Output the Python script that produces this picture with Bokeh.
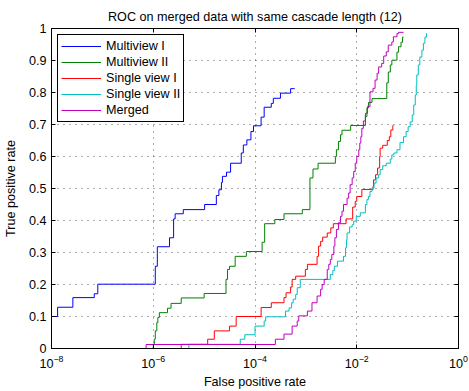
from bokeh.plotting import figure
from bokeh.models import Range1d, FixedTicker, LinearAxis, LogAxis, CustomJSTickFormatter
from bokeh.embed import file_html
from bokeh.resources import INLINE

title_text = "ROC on merged data with same cascade length (12)"
x_label = "False positive rate"
y_label = "True positive rate"
x_ticks = [1e-8, 1e-6, 1e-4, 1e-2, 1e0]
y_ticks = [0.0, 0.1, 0.2, 0.3, 0.4, 0.5, 0.6, 0.7, 0.8, 0.9, 1.0]

series_names = ["Multiview I", "Multiview II", "Single view I", "Single view II", "Merged"]
series_colors = ["#0000ff", "#008000", "#ff0000", "#00bfbf", "#bf00bf"]

# log10(false positive rate) and true positive rate
mv1_log_fpr = [-8.00, -7.88, -7.58, -7.16, -7.09, -5.96, -5.92, -5.68, -5.60, -5.57, -5.41, -4.99,
               -4.76, -4.71, -4.66, -4.64, -4.56, -4.48, -4.27, -4.23, -4.16, -4.08, -4.03, -3.88,
               -3.82, -3.68, -3.64, -3.50, -3.30, -3.22]
mv1_tpr = [0.100, 0.129, 0.159, 0.171, 0.201, 0.257, 0.318, 0.346, 0.405, 0.421, 0.434, 0.450,
           0.478, 0.496, 0.519, 0.538, 0.551, 0.579, 0.611, 0.636, 0.652, 0.678, 0.696, 0.723,
           0.754, 0.766, 0.782, 0.798, 0.812, 0.812]

mv2_log_fpr = [-7.86, -6.02, -6.00, -5.98, -5.96, -5.93, -5.91, -5.88, -5.72, -5.65, -5.45, -5.00,
               -4.57, -4.54, -4.50, -4.39, -4.17, -3.86, -3.81, -3.61, -3.43, -3.07, -2.92, -2.86,
               -2.76, -2.42, -2.40, -2.36, -2.32, -2.29, -2.12, -1.83, -1.80, -1.77, -1.70, -1.41,
               -1.38, -1.34, -1.31, -1.21, -1.18, -1.13, -1.10, -1.08]
mv2_tpr = [0.000, 0.000, 0.013, 0.029, 0.055, 0.081, 0.097, 0.112, 0.126, 0.141, 0.158, 0.172,
           0.216, 0.247, 0.257, 0.288, 0.303, 0.332, 0.390, 0.403, 0.421, 0.434, 0.533, 0.561,
           0.579, 0.600, 0.621, 0.647, 0.668, 0.682, 0.697, 0.725, 0.752, 0.769, 0.781, 0.830,
           0.864, 0.886, 0.901, 0.926, 0.943, 0.957, 0.973, 0.973]

sv1_log_fpr = [-7.86, -5.45, -4.93, -4.80, -4.50, -4.37, -3.88, -3.68, -3.43, -3.39, -3.30, -3.27,
               -3.20, -3.01, -2.97, -2.78, -2.75, -2.71, -2.67, -2.58, -2.51, -2.46, -2.21, -2.08,
               -2.03, -2.00, -1.90, -1.68, -1.67, -1.63, -1.59, -1.55, -1.54, -1.49, -1.40, -1.36,
               -1.33, -1.29, -1.28]
sv1_tpr = [0.000, 0.013, 0.029, 0.055, 0.070, 0.100, 0.128, 0.143, 0.159, 0.174, 0.192, 0.216,
           0.226, 0.247, 0.263, 0.288, 0.320, 0.335, 0.348, 0.361, 0.377, 0.390, 0.405, 0.442,
           0.460, 0.475, 0.497, 0.507, 0.527, 0.543, 0.564, 0.600, 0.626, 0.635, 0.650, 0.662,
           0.683, 0.697, 0.697]

sv2_log_fpr = [-7.86, -5.30, -4.29, -4.20, -4.00, -3.82, -3.79, -3.40, -3.33, -3.28, -3.25, -3.20,
               -3.17, -3.11, -2.52, -2.47, -2.44, -2.38, -2.26, -2.22, -2.20, -2.19, -2.14, -2.09,
               -2.06, -2.01, -1.93, -1.83, -1.80, -1.77, -1.74, -1.70, -1.66, -1.62, -1.57, -1.54,
               -1.49, -1.42, -1.34, -1.31, -1.27, -1.21, -1.15, -1.08, -1.03, -0.99, -0.95, -0.91,
               -0.88, -0.85, -0.83, -0.82, -0.79, -0.76, -0.72, -0.69, -0.66, -0.63]
sv2_tpr = [0.000, 0.013, 0.029, 0.043, 0.070, 0.086, 0.099, 0.117, 0.127, 0.143, 0.154, 0.169,
           0.190, 0.216, 0.231, 0.244, 0.257, 0.273, 0.288, 0.315, 0.340, 0.361, 0.380, 0.387,
           0.398, 0.413, 0.424, 0.450, 0.466, 0.475, 0.491, 0.502, 0.517, 0.533, 0.543, 0.559,
           0.571, 0.579, 0.592, 0.605, 0.611, 0.621, 0.644, 0.662, 0.678, 0.693, 0.708, 0.730,
           0.761, 0.792, 0.823, 0.855, 0.886, 0.911, 0.932, 0.954, 0.973, 0.985]

mrg_log_fpr = [-7.86, -6.14, -3.60, -3.43, -3.27, -3.17, -3.14, -2.97, -2.88, -2.78, -2.71, -2.68,
               -2.64, -2.58, -2.55, -2.52, -2.49, -2.45, -2.43, -2.40, -2.36, -2.32, -2.29, -2.26,
               -2.19, -2.16, -2.13, -2.09, -2.06, -2.03, -2.00, -1.96, -1.94, -1.92, -1.90, -1.87,
               -1.83, -1.79, -1.74, -1.68, -1.64, -1.60, -1.57, -1.51, -1.47, -1.42, -1.38, -1.31,
               -1.28, -1.21, -1.18, -1.08]
mrg_tpr = [0.000, 0.0125, 0.029, 0.045, 0.070, 0.086, 0.102, 0.117, 0.143, 0.164, 0.185, 0.200,
           0.216, 0.247, 0.263, 0.278, 0.294, 0.320, 0.346, 0.372, 0.393, 0.413, 0.429, 0.450,
           0.470, 0.486, 0.512, 0.533, 0.553, 0.579, 0.600, 0.621, 0.642, 0.662, 0.688, 0.711,
           0.735, 0.756, 0.802, 0.813, 0.839, 0.860, 0.880, 0.891, 0.914, 0.927, 0.948, 0.958,
           0.974, 0.984, 0.988, 0.988]

series = [
    (mv1_log_fpr, mv1_tpr),
    (mv2_log_fpr, mv2_tpr),
    (sv1_log_fpr, sv1_tpr),
    (sv2_log_fpr, sv2_tpr),
    (mrg_log_fpr, mrg_tpr),
]

FONT = "Liberation Sans"
FS = "12.6px"

p = figure(width=469, height=391, x_axis_type="log",
           x_range=Range1d(x_ticks[0], x_ticks[-1]), y_range=Range1d(y_ticks[0], y_ticks[-1]),
           output_backend="svg", toolbar_location=None,
           min_border_left=50, min_border_right=11, min_border_top=28, min_border_bottom=42)

p.title.text = title_text
p.title.align = "center"
p.title.text_font = FONT
p.title.text_font_size = FS
p.title.text_font_style = "normal"
p.title.text_color = "black"
p.title.standoff = 10

p.background_fill_color = "white"
p.border_fill_color = "white"
p.outline_line_color = "black"
p.outline_line_width = 1
p.outline_line_alpha = 1

xt = FixedTicker(ticks=x_ticks, minor_ticks=[])
yt = FixedTicker(ticks=y_ticks, minor_ticks=[])

p.xaxis.ticker = xt
p.yaxis.ticker = yt
p.xgrid.ticker = xt
p.ygrid.ticker = yt
p.yaxis.formatter = CustomJSTickFormatter(code="return String(Math.round(tick*10)/10);")

for ax in [p.xaxis[0], p.yaxis[0]]:
    ax.axis_line_color = "black"
    ax.major_tick_line_color = "black"
    ax.major_tick_in = 4
    ax.major_tick_out = 0
    ax.minor_tick_in = 0
    ax.minor_tick_out = 0
    ax.major_label_text_font = FONT
    ax.major_label_text_font_size = FS
    ax.major_label_text_color = "black"
    ax.axis_label_text_font = FONT
    ax.axis_label_text_font_size = FS
    ax.axis_label_text_font_style = "normal"
    ax.axis_label_text_color = "black"

p.xaxis.axis_label = x_label
p.yaxis.axis_label = y_label
p.xaxis.major_label_standoff = 6
p.xaxis.axis_label_standoff = 4
p.yaxis.major_label_standoff = 5
p.yaxis.axis_label_standoff = 8

empty = CustomJSTickFormatter(code="return '';")
top_ax = LogAxis(ticker=FixedTicker(ticks=x_ticks, minor_ticks=[]), formatter=empty,
                 major_tick_in=4, major_tick_out=0, minor_tick_in=0, minor_tick_out=0,
                 major_label_standoff=0, major_label_text_font_size="0px", axis_line_color="black")
right_ax = LinearAxis(ticker=FixedTicker(ticks=y_ticks, minor_ticks=[]), formatter=empty,
                      major_tick_in=4, major_tick_out=0, minor_tick_in=0, minor_tick_out=0,
                      major_label_standoff=0, major_label_text_font_size="0px", axis_line_color="black")
p.add_layout(top_ax, "above")
p.add_layout(right_ax, "right")

for g in [p.xgrid[0], p.ygrid[0]]:
    g.grid_line_color = "#303030"
    g.grid_line_width = 1
    g.grid_line_dash = "1 5"
    g.grid_line_alpha = 0.8

for (lx, ty), name, col in zip(series, series_names, series_colors):
    fpr = [10 ** v for v in lx]
    p.step(x=fpr, y=ty, mode="after", line_color=col, line_width=1, legend_label=name)

lg = p.legend[0]
lg.location = "top_left"
lg.margin = 6
lg.padding = 3
lg.spacing = 0
lg.border_line_color = "black"
lg.border_line_width = 1
lg.border_line_alpha = 1
lg.background_fill_color = "white"
lg.background_fill_alpha = 1
lg.label_text_font = FONT
lg.label_text_font_size = FS
lg.label_text_color = "black"
lg.glyph_width = 40
lg.glyph_height = 16
lg.label_height = 16
lg.label_standoff = 5

open("out.html", "w").write(file_html(p, INLINE))
